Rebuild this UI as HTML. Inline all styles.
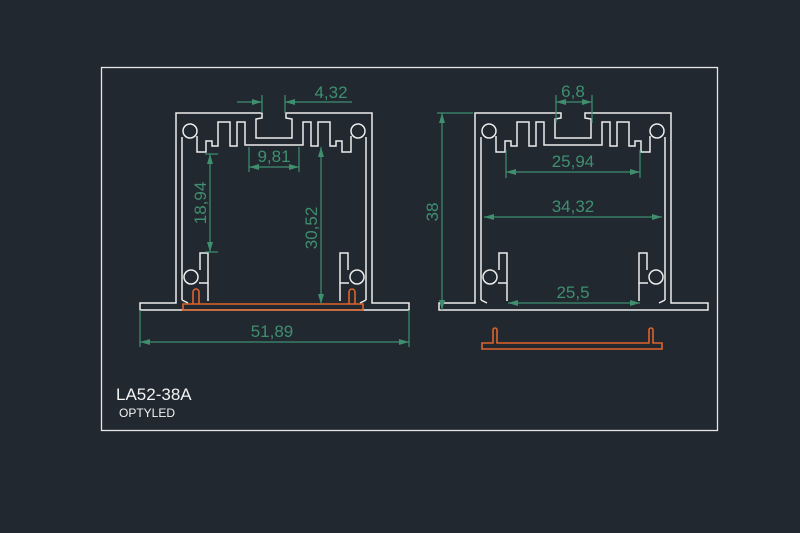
<!DOCTYPE html>
<html><head><meta charset="utf-8"><style>
html,body{margin:0;padding:0;background:#212830;}
svg{display:block}
text{font-family:"Liberation Sans",sans-serif;}
</style></head><body>
<svg width="800" height="533" viewBox="0 0 800 533" xmlns="http://www.w3.org/2000/svg">
<rect width="800" height="533" fill="#212830"/>
<rect x="101.5" y="67.5" width="616" height="363" fill="none" stroke="#e6e6e6" stroke-width="1.3"/>
<defs>
<marker id="a" viewBox="0 0 10 6" refX="10" refY="3" markerWidth="10" markerHeight="6" markerUnits="userSpaceOnUse" orient="auto-start-reverse">
<path d="M0,0 L10,3 L0,6 Z" fill="#3f8f6f"/>
</marker>
<g id="prof" fill="none" stroke="#ececec" stroke-width="1.5">
<path d="M140,303 L176,303 L176,113 L262,113 L262,118 L256,119 L256,138 L292,138 L292,119 L286,118 L286,113 L372,113 L372,303 L409,303 L409,310 L140,310 Z"/>
<path d="M182,300 L182,137 M197,136 L197,152 L206,152 L206,141 L212,141 L212,146 L218,146 L218,122 L230,122 L230,146 L237,146 L237,122 L245,122 L245,145 L303,145 L303,122 L311,122 L311,146 L318,146 L318,122 L330,122 L330,146 L336,146 L336,141 L342,141 L342,152 L351,152 L351,136 M366,137 L366,300"/>
<circle cx="190" cy="131" r="7" fill="#212830"/>
<circle cx="358" cy="131" r="7" fill="#212830"/>
<path d="M199,283 L208,283 L208,253 L200,253 L200,270"/>
<path d="M349,283 L340,283 L340,253 L348,253 L348,270"/>
<circle cx="191" cy="277" r="7" fill="#212830"/>
<circle cx="357" cy="277" r="7" fill="#212830"/>
<path d="M208,283 L208,301 M340,283 L340,301 M182,300 L188,303 M366,300 L360,303"/>
</g>
</defs>
<use href="#prof"/>
<use href="#prof" transform="translate(299,0)"/>
<g fill="none" stroke="#e0632a" stroke-width="1.6">
<path d="M183,304 L363,304 L363,310 L183,310 Z"/>
<path d="M193,304 L193,292 A3,3 0 0 1 199,292 L199,304"/>
<path d="M349,304 L349,292 A3,3 0 0 1 355,292 L355,304"/>
<path d="M482,343 L493,343 L493,330 A2,2 0 0 1 497,330 L497,343 L649,343 L649,330 A2,2 0 0 1 653,330 L653,343 L662,343 L662,349 L482,349 Z"/>
</g>
<g stroke="#3f8f6f" stroke-width="1.2" fill="none">
<line x1="237" y1="102" x2="262" y2="102" marker-end="url(#a)"/><line x1="352" y1="102" x2="285" y2="102" marker-end="url(#a)"/><line x1="262" y1="95" x2="262" y2="113"/><line x1="285" y1="95" x2="285" y2="113"/>
<line x1="249" y1="167" x2="299" y2="167" marker-start="url(#a)" marker-end="url(#a)"/><line x1="249" y1="147" x2="249" y2="172"/><line x1="299" y1="147" x2="299" y2="172"/>
<line x1="210" y1="154" x2="210" y2="252" marker-start="url(#a)" marker-end="url(#a)"/><line x1="205" y1="154" x2="218" y2="154"/><line x1="205" y1="252" x2="218" y2="252"/>
<line x1="321" y1="147" x2="321" y2="304" marker-start="url(#a)" marker-end="url(#a)"/>
<line x1="140" y1="342" x2="409" y2="342" marker-start="url(#a)" marker-end="url(#a)"/><line x1="140" y1="310" x2="140" y2="347"/><line x1="409" y1="310" x2="409" y2="347"/>
<line x1="556" y1="102" x2="592" y2="102" marker-start="url(#a)" marker-end="url(#a)"/><line x1="556" y1="95" x2="556" y2="123"/><line x1="592" y1="95" x2="592" y2="123"/>
<line x1="442" y1="113" x2="442" y2="310" marker-start="url(#a)" marker-end="url(#a)"/><line x1="437" y1="113" x2="473" y2="113"/>
<line x1="506" y1="172" x2="640" y2="172" marker-start="url(#a)" marker-end="url(#a)"/><line x1="506" y1="150" x2="506" y2="178"/><line x1="640" y1="150" x2="640" y2="178"/>
<line x1="484" y1="217" x2="662" y2="217" marker-start="url(#a)" marker-end="url(#a)"/>
<line x1="508" y1="303" x2="640" y2="303" marker-start="url(#a)" marker-end="url(#a)"/>
</g>
<g stroke="none" fill="#3f8f6f" font-size="17">
<text x="331" y="98" text-anchor="middle">4,32</text>
<text x="274" y="162" text-anchor="middle">9,81</text>
<text x="272" y="337" text-anchor="middle">51,89</text>
<text transform="translate(206,203) rotate(-90)" text-anchor="middle">18,94</text>
<text transform="translate(317,228) rotate(-90)" text-anchor="middle">30,52</text>
<text x="573" y="97" text-anchor="middle">6,8</text>
<text transform="translate(438,212) rotate(-90)" text-anchor="middle">38</text>
<text x="573" y="167" text-anchor="middle">25,94</text>
<text x="573" y="212" text-anchor="middle">34,32</text>
<text x="573" y="298" text-anchor="middle">25,5</text>
</g>
<text x="116" y="400" fill="#f2f2f2" font-size="17">LA52-38A</text>
<text x="119" y="417" fill="#f2f2f2" font-size="12">OPTYLED</text>
</svg>
</body></html>
